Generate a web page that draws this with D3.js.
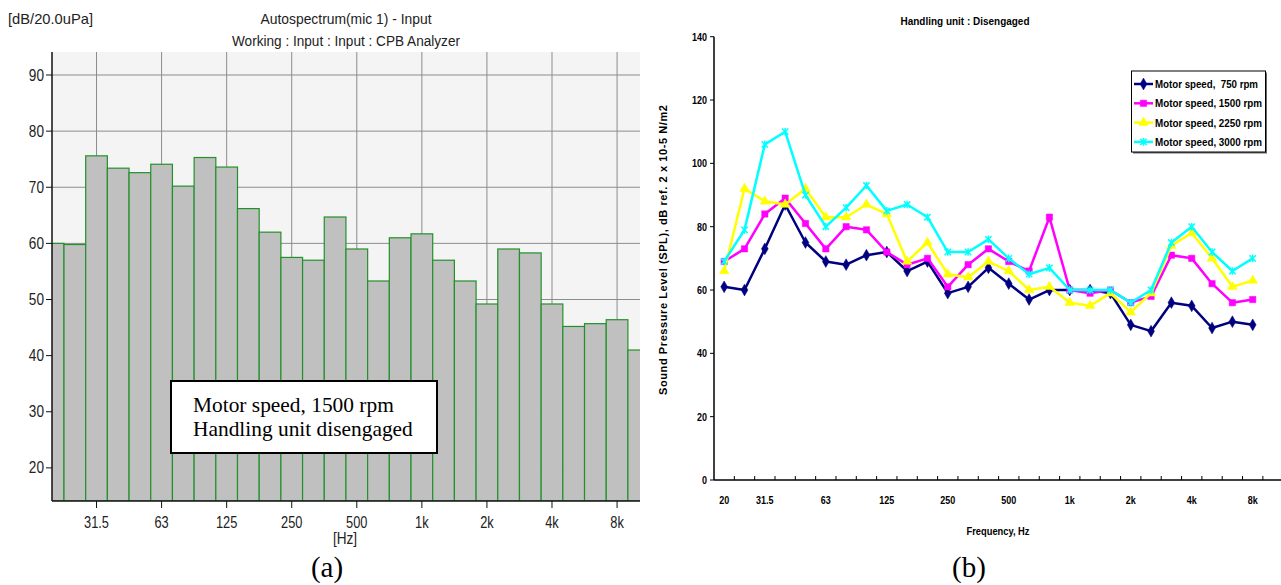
<!DOCTYPE html>
<html>
<head>
<meta charset="utf-8">
<script src="https://cdn.jsdelivr.net/npm/d3@7"></script>
<style>
  body { margin: 0; background: #fff; }
  .narrow { font-family: "Liberation Sans Narrow", "Arial Narrow", "Liberation Sans", Arial, sans-serif; }
  .serif { font-family: "Liberation Serif", "Times New Roman", serif; }
</style>
</head>
<body>
<svg id="chart" width="1281" height="585"></svg>
<script>
// One-third octave bands shared by both panels
const bands = ["20","25","31.5","40","50","63","80","100","125","160","200","250","315","400",
  "500","630","800","1k","1.25k","1.6k","2k","2.5k","3.15k","4k","5k","6.3k","8k","10k"];

// Panel (a): CPB autospectrum, 1500 rpm
const spectrum1500 = [60.0,59.8,75.6,73.4,72.6,74.1,70.2,75.3,73.6,66.2,62.0,57.5,57.0,64.7,
  59.0,53.3,61.0,61.7,57.0,53.3,49.2,59.0,58.3,49.2,45.2,45.7,46.4,41.0];
const octaveLabels = ["31.5","63","125","250","500","1k","2k","4k","8k"];
const yTicksA = [20,30,40,50,60,70,80,90];

// Panel (b): SPL per motor speed (no 10k reading)
const speedNames = ["Motor speed,  750 rpm","Motor speed, 1500 rpm","Motor speed, 2250 rpm","Motor speed, 3000 rpm"];
const speed750  = [61,60,73,87,75,69,68,71,72,66,69,59,61,67,62,57,60,60,60,59,49,47,56,55,48,50,49,null];
const speed1500 = [69,73,84,89,81,73,80,79,72,68,70,61,68,73,69,66,83,60,59,60,56,58,71,70,62,56,57,null];
const speed2250 = [66,92,88,87,92,83,83,87,84,69,75,65,64,69,66,60,61,56,55,59,53,59,74,78,70,61,63,null];
const speed3000 = [69,79,106,110,90,80,86,93,85,87,83,72,72,76,70,65,67,60,60,60,56,60,75,80,72,66,70,null];
const freqLabelsB = ["20","31.5","63","125","250","500","1k","2k","4k","8k"];
const yTicksB = [0,20,40,60,80,100,120,140];

const svg = d3.select("#chart");

// squeeze text horizontally, no narrow font is installed
function condense(sel, k) {
  sel.each(function () {
    const w = this.getComputedTextLength();
    d3.select(this).attr("textLength", w * k).attr("lengthAdjust", "spacingAndGlyphs");
  });
}

// ---------------- Panel (a) ----------------
const a = { left: 52, right: 640, top: 52, bottom: 501 };
const xA = d3.scaleBand().domain(bands).range([42.3, 649.6]).padding(0);
const yA = d3.scaleLinear().domain([14.1, 94.1]).range([a.bottom, a.top]);

svg.append("clipPath").attr("id", "clipA")
  .append("rect")
  .attr("x", a.left).attr("y", a.top)
  .attr("width", a.right - a.left).attr("height", a.bottom - a.top);

const gA = svg.append("g");

// plot background
gA.append("rect")
  .attr("x", a.left).attr("y", a.top)
  .attr("width", a.right - a.left).attr("height", a.bottom - a.top)
  .attr("fill", "#f4f4f4");

// grid lines
gA.selectAll(".hgrid").data(yTicksA).enter().append("line")
  .attr("x1", a.left).attr("x2", a.right)
  .attr("y1", d => yA(d)).attr("y2", d => yA(d))
  .attr("stroke", "#8c8c8c").attr("stroke-width", 1);
gA.selectAll(".vgrid").data(octaveLabels).enter().append("line")
  .attr("x1", d => xA(d) + xA.bandwidth() / 2).attr("x2", d => xA(d) + xA.bandwidth() / 2)
  .attr("y1", a.top).attr("y2", a.bottom)
  .attr("stroke", "#8c8c8c").attr("stroke-width", 1);

// bars
gA.append("g").attr("clip-path", "url(#clipA)")
  .selectAll("rect").data(spectrum1500).enter().append("rect")
  .attr("x", (d, i) => xA(bands[i]))
  .attr("y", d => yA(d))
  .attr("width", xA.bandwidth())
  .attr("height", d => a.bottom - yA(d))
  .attr("fill", "#c0c0c0")
  .attr("stroke", "#23912a")
  .attr("stroke-width", 1.2);

// axes lines
gA.append("line").attr("x1", a.left).attr("x2", a.left).attr("y1", a.top).attr("y2", a.bottom)
  .attr("stroke", "#111").attr("stroke-width", 1.5);
gA.append("line").attr("x1", a.left).attr("x2", a.right).attr("y1", a.bottom).attr("y2", a.bottom)
  .attr("stroke", "#111").attr("stroke-width", 1.5);

// y ticks + labels
gA.selectAll(".ytA").data(yTicksA).enter().append("line")
  .attr("x1", a.left - 6).attr("x2", a.left)
  .attr("y1", d => yA(d)).attr("y2", d => yA(d))
  .attr("stroke", "#111");
gA.selectAll(".ylA").data(yTicksA).enter().append("text")
  .attr("class", "narrow ylA")
  .attr("x", a.left - 8).attr("y", d => yA(d) + 5.5)
  .attr("text-anchor", "end").attr("font-size", "16px").attr("fill", "#222")
  .text(d => d)
  .call(condense, 0.85);

// x ticks + labels
gA.selectAll(".xtA").data(octaveLabels).enter().append("line")
  .attr("x1", d => xA(d) + xA.bandwidth() / 2).attr("x2", d => xA(d) + xA.bandwidth() / 2)
  .attr("y1", a.bottom).attr("y2", a.bottom + 7)
  .attr("stroke", "#111");
gA.selectAll(".xlA").data(octaveLabels).enter().append("text")
  .attr("class", "narrow xlA")
  .attr("x", d => xA(d) + xA.bandwidth() / 2).attr("y", a.bottom + 27)
  .attr("text-anchor", "middle").attr("font-size", "16px").attr("fill", "#222")
  .text(d => d)
  .call(condense, 0.8);

gA.append("text").attr("class", "narrow")
  .attr("x", 345).attr("y", 544).attr("text-anchor", "middle")
  .attr("font-size", "16px").attr("fill", "#222").text("[Hz]")
  .call(condense, 0.85);

// titles
gA.append("text").attr("class", "narrow")
  .attr("x", 8).attr("y", 24).attr("font-size", "15px").attr("fill", "#222")
  .attr("textLength", 85).attr("lengthAdjust", "spacingAndGlyphs")
  .text("[dB/20.0uPa]");
gA.append("text").attr("class", "narrow")
  .attr("x", 346).attr("y", 24).attr("text-anchor", "middle")
  .attr("font-size", "15.5px").attr("fill", "#222")
  .attr("textLength", 171).attr("lengthAdjust", "spacingAndGlyphs")
  .text("Autospectrum(mic 1) - Input");
gA.append("text").attr("class", "narrow")
  .attr("x", 346).attr("y", 46).attr("text-anchor", "middle")
  .attr("font-size", "15.5px").attr("fill", "#222")
  .attr("textLength", 228).attr("lengthAdjust", "spacingAndGlyphs")
  .text("Working : Input : Input : CPB Analyzer");

// annotation box
gA.append("rect")
  .attr("x", 171).attr("y", 381).attr("width", 266).attr("height", 72)
  .attr("fill", "#fff").attr("stroke", "#000").attr("stroke-width", 2);
gA.append("text").attr("class", "serif")
  .attr("x", 193).attr("y", 411.5).attr("font-size", "21.4px").attr("fill", "#000")
  .text("Motor speed, 1500 rpm");
gA.append("text").attr("class", "serif")
  .attr("x", 193).attr("y", 435.5).attr("font-size", "21.4px").attr("fill", "#000")
  .text("Handling unit disengaged");

gA.append("text").attr("class", "serif")
  .attr("x", 327).attr("y", 577).attr("text-anchor", "middle")
  .attr("font-size", "29px").text("(a)");

// ---------------- Panel (b) ----------------
const b = { left: 714, right: 1281, top: 36.7, bottom: 480 };
const xB = d3.scaleBand().domain(bands).range([714, 1283.2]).padding(0);
const yB = d3.scaleLinear().domain([0, 140]).range([b.bottom, b.top]);
const cx = d => xB(d) + xB.bandwidth() / 2;

const gB = svg.append("g").attr("class", "narrow");

// axes
gB.append("line").attr("x1", b.left).attr("x2", b.left).attr("y1", b.top).attr("y2", b.bottom)
  .attr("stroke", "#000").attr("stroke-width", 1.5);
gB.append("line").attr("x1", b.left).attr("x2", b.right).attr("y1", b.bottom).attr("y2", b.bottom)
  .attr("stroke", "#000").attr("stroke-width", 1.5);

gB.selectAll(".ytB").data(yTicksB).enter().append("line")
  .attr("x1", b.left - 4).attr("x2", b.left)
  .attr("y1", d => yB(d)).attr("y2", d => yB(d))
  .attr("stroke", "#000");
gB.selectAll(".ylB").data(yTicksB).enter().append("text")
  .attr("x", b.left - 7).attr("y", d => yB(d) + 4)
  .attr("text-anchor", "end").attr("font-size", "11.5px").attr("font-weight", "bold")
  .text(d => d)
  .call(condense, 0.78);

// category ticks sit between bands, pointing up
gB.selectAll(".xtB").data(bands.slice(1)).enter().append("line")
  .attr("x1", d => xB(d)).attr("x2", d => xB(d))
  .attr("y1", b.bottom - 4).attr("y2", b.bottom)
  .attr("stroke", "#000");
gB.selectAll(".xlB").data(freqLabelsB).enter().append("text")
  .attr("x", d => cx(d)).attr("y", b.bottom + 24)
  .attr("text-anchor", "middle").attr("font-size", "11.5px").attr("font-weight", "bold")
  .text(d => d)
  .call(condense, 0.78);

gB.append("text")
  .attr("x", 998).attr("y", 535).attr("text-anchor", "middle")
  .attr("font-size", "11.5px").attr("font-weight", "bold")
  .attr("textLength", 63).attr("lengthAdjust", "spacingAndGlyphs")
  .text("Frequency, Hz");
gB.append("text")
  .attr("x", 965).attr("y", 25).attr("text-anchor", "middle")
  .attr("font-size", "11.5px").attr("font-weight", "bold")
  .attr("textLength", 129).attr("lengthAdjust", "spacingAndGlyphs")
  .text("Handling unit : Disengaged");
gB.append("text")
  .attr("transform", "translate(667,250) rotate(-90)")
  .attr("text-anchor", "middle").attr("font-size", "11px").attr("font-weight", "bold")
  .attr("textLength", 290).attr("lengthAdjust", "spacing")
  .text("Sound Pressure Level (SPL), dB ref. 2 x 10-5 N/m2");

// marker shapes
const crossStar = {
  draw(ctx, size) {
    const r = Math.sqrt(size) / 2;
    ctx.moveTo(-r, -r); ctx.lineTo(r, r);
    ctx.moveTo(-r, r); ctx.lineTo(r, -r);
    ctx.moveTo(0, -r * 1.2); ctx.lineTo(0, r * 1.2);
  }
};
const series = [
  { name: speedNames[0], values: speed750,  color: "#000080", symbol: d3.symbolDiamond,  size: 40, stroke: false },
  { name: speedNames[1], values: speed1500, color: "#ff00ff", symbol: d3.symbolSquare,   size: 40, stroke: false },
  { name: speedNames[2], values: speed2250, color: "#ffff00", symbol: d3.symbolTriangle, size: 40, stroke: false },
  { name: speedNames[3], values: speed3000, color: "#00ffff", symbol: crossStar,         size: 40, stroke: true }
];

const line = d3.line()
  .defined(d => d.v != null)
  .x(d => cx(d.band))
  .y(d => yB(d.v));

series.forEach(s => {
  const pts = s.values.map((v, i) => ({ band: bands[i], v: v }));
  gB.append("path")
    .attr("d", line(pts))
    .attr("fill", "none").attr("stroke", s.color).attr("stroke-width", 2.5)
    .attr("stroke-linejoin", "round");
  gB.selectAll(null).data(pts.filter(d => d.v != null)).enter().append("path")
    .attr("transform", d => `translate(${cx(d.band)},${yB(d.v)})`)
    .attr("d", d3.symbol().type(s.symbol).size(s.size))
    .attr("fill", s.stroke ? "none" : s.color)
    .attr("stroke", s.color).attr("stroke-width", s.stroke ? 1.5 : 0.5);
});

// legend
const lg = gB.append("g");
lg.append("rect").attr("x", 1133).attr("y", 72.5).attr("width", 134).attr("height", 81)
  .attr("fill", "#666");
lg.append("rect").attr("x", 1131.5).attr("y", 71).attr("width", 134).attr("height", 81)
  .attr("fill", "#fff").attr("stroke", "#000").attr("stroke-width", 1);
series.forEach((s, i) => {
  const ly = 84 + i * 19.3;
  lg.append("line").attr("x1", 1134).attr("x2", 1153).attr("y1", ly).attr("y2", ly)
    .attr("stroke", s.color).attr("stroke-width", 2.5);
  lg.append("path")
    .attr("transform", `translate(1143.5,${ly})`)
    .attr("d", d3.symbol().type(s.symbol).size(s.size))
    .attr("fill", s.stroke ? "none" : s.color)
    .attr("stroke", s.color).attr("stroke-width", s.stroke ? 1.5 : 0.5);
  lg.append("text").attr("x", 1155).attr("y", ly + 4)
    .attr("font-size", "11.5px").attr("font-weight", "bold")
    .attr("xml:space", "preserve").style("white-space", "pre")
    .attr("textLength", i === 0 ? 103 : 107).attr("lengthAdjust", "spacingAndGlyphs")
    .text(s.name);
});

svg.append("text").attr("class", "serif")
  .attr("x", 969).attr("y", 577).attr("text-anchor", "middle")
  .attr("font-size", "29px").text("(b)");
</script>
</body>
</html>
